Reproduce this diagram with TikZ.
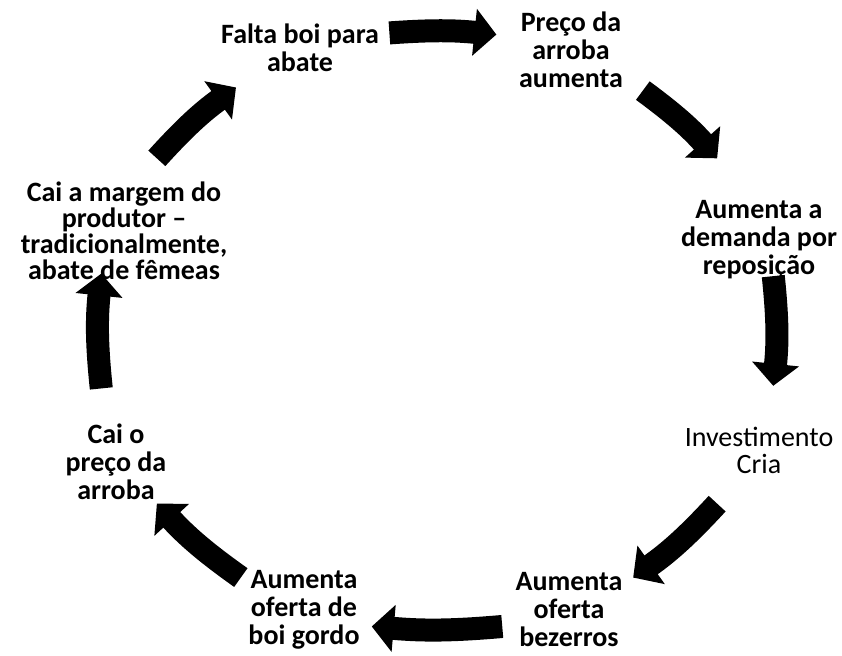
\documentclass[tikz,border=0pt]{standalone}
\usepackage{fontspec}
\setmainfont{Carlito}
\usetikzlibrary{arrows.meta}

\begin{document}
\begin{tikzpicture}[x=1pt, y=1pt, outer sep=0pt,
  txt/.style={align=center, inner sep=0pt, font=\fontsize{28}{28}\selectfont\bfseries},
  txtlight/.style={align=center, inner sep=0pt, font=\fontsize{28}{27}\selectfont},
  bigarrow/.style={line width=23pt, -{Triangle[width=46pt,length=22pt]}}]

\useasboundingbox (-437,-324) rectangle (405,331);

\node[txt] at (-137, 283) (FALTA_BOI) {Falta boi para\\abate};
\node[txt] at (134, 281) (PRECO_SOBE) {Preço da\\arroba\\aumenta};
\node[txt] at (322, 91) (DEMANDA) {Aumenta a\\demanda por\\reposição};
\node[txtlight] at (322, -119) (INVEST_CRIA) {Investimento\\Cria};
\node[txt] at (132, -279) (OFERTA_BEZ) {Aumenta\\oferta\\bezerros};
\node[txt] at (-133, -279) (OFERTA_BOI) {Aumenta\\oferta de\\boi gordo};
\node[txt] at (-321, -131) (PRECO_CAI) {Cai o\\preço da\\arroba};
\node[txt, font=\fontsize{28}{26}\selectfont\bfseries] at (-313, 100) (MARGEM) {Cai a margem do\\produtor --\\tradicionalmente,\\abate de fêmeas};

% ends of the block arrows, on one ellipse
\coordinate (A1_S) at (98:342pt and 301pt);
\coordinate (A1_E) at (80:342pt and 301pt);
\coordinate (A2_S) at (53:342pt and 301pt);
\coordinate (A2_E) at (35:342pt and 301pt);
\coordinate (A3_S) at (10.5:342pt and 301pt);
\coordinate (A3_E) at (-10.5:342pt and 301pt);
\coordinate (A4_S) at (-35:342pt and 301pt);
\coordinate (A4_E) at (-55:342pt and 301pt);
\coordinate (A5_S) at (-79:342pt and 301pt);
\coordinate (A5_E) at (-101:342pt and 301pt);
\coordinate (A6_S) at (-125:342pt and 301pt);
\coordinate (A6_E) at (-145:342pt and 301pt);
\coordinate (A7_S) at (191:342pt and 301pt);
\coordinate (A7_E) at (169:342pt and 301pt);
\coordinate (A8_S) at (145:342pt and 301pt);
\coordinate (A8_E) at (126:342pt and 301pt);

    \draw [bigarrow] (A1_S) to[bend left=5] (A1_E);
    \draw [bigarrow] (A2_S) to[bend left=6] (A2_E);
    \draw [bigarrow] (A3_S) to[bend left=6] (A3_E);
    \draw [bigarrow] (A4_S) to[bend left=6] (A4_E);
    \draw [bigarrow] (A5_S) to[bend left=5] (A5_E);
    \draw [bigarrow] (A6_S) to[bend left=6] (A6_E);
    \draw [bigarrow] (A7_S) to[bend left=6] (A7_E);
    \draw [bigarrow] (A8_S) to[bend left=6] (A8_E);
\end{tikzpicture}
\end{document}
